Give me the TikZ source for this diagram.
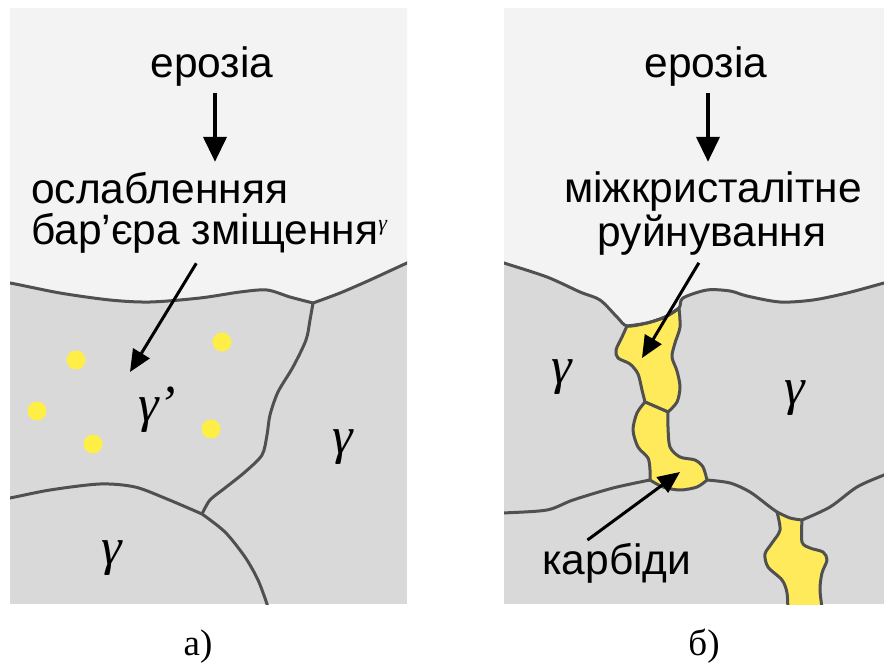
\documentclass[tikz,border=0pt]{standalone}
\usepackage{fontspec}
\setmainfont{Liberation Sans}
\newfontfamily\timesfont{Liberation Serif}
\usetikzlibrary{arrows.meta, positioning, calc}
\definecolor{erosbg}{RGB}{243,243,243}
\definecolor{grain}{RGB}{217,217,217}
\definecolor{boundary}{RGB}{80,80,80}
\definecolor{carbfill}{RGB}{255,234,92}
\definecolor{dotfill}{RGB}{255,238,70}

\begin{document}
\begin{tikzpicture}[
        x=1pt, y=-1pt,
        panel/.style={fill=grain},
        erosion/.style={fill=erosbg},
        grainline/.style={draw=boundary, line width=3pt, line join=round},
        carbide/.style={fill=carbfill, draw=boundary, line width=3pt, line join=round},
        particle/.style={circle, fill=dotfill, minimum size=19pt, inner sep=0pt},
        textlbl/.style={inner sep=0pt, font=\fontsize{42.5}{48}\selectfont, text height=29pt, text depth=8pt},
        phase/.style={inner sep=0pt, font=\timesfont\itshape\fontsize{52}{56}\selectfont},
        caption/.style={inner sep=0pt, font=\timesfont\fontsize{37}{42}\selectfont},
        bigarrow/.style={-{Triangle[length=25pt, width=23pt]}, line width=4pt, black},
        thinarrow/.style={-{Triangle[length=22pt, width=19pt]}, line width=3pt, black}
    ]
    \useasboundingbox (0,0) rectangle (884,666);

    % panel a: gamma' particles in the grain below the eroded surface
    \begin{scope}
        \clip (10,9) rectangle (407,604);
        \fill[panel] (10,9) rectangle (407,604);
        \fill[erosion] (0,0) -- (0,283) -- plot[smooth] coordinates {(10,283) (60,293) (110,300) (150,302) (200,298) (240,292) (267,290) (290,297) (313,303)}
            -- plot[smooth] coordinates {(313,303) (340,293) (370,280) (407,263) (420,258)} -- (420,0) -- cycle;
        \draw[grainline] plot[smooth] coordinates {(0,283) (10,283) (60,293) (110,300) (150,302) (200,298) (240,292) (267,290) (290,297) (313,303)};
        \draw[grainline] plot[smooth] coordinates {(313,303) (340,293) (370,280) (407,263) (420,258)};
        \draw[grainline] plot[smooth] coordinates {(313,303) (310,320) (306,340) (293,367) (278,392) (270,415) (267,435) (262,455) (245,472) (225,488) (210,500) (202,514)};
        \draw[grainline] plot[smooth] coordinates {(0,499) (10,498) (50,490) (100,484) (135,487) (167,499) (202,514)};
        \draw[grainline] plot[smooth] coordinates {(202,514) (225,532) (245,557) (258,580) (267,604) (270,615)};
    \end{scope}
    \node[particle] (p1) at (222,342) {};
    \node[particle] (p2) at (76,360) {};
    \node[particle] (p3) at (37,411) {};
    \node[particle] (p4) at (93,444) {};
    \node[particle] (p5) at (211,429) {};

    \node[textlbl, anchor=base] (erosA) at (212,78) {ерозіа};
    \node[textlbl, anchor=base west] (weakA1) at (31,204) {ослабленняя};
    \node[textlbl, anchor=base west] (weakA2) at (31,244) {бар’єра зміщення\raisebox{14pt}{\timesfont\itshape\fontsize{22}{22}\selectfont γ}};
    \node[phase] (gpA) at (157,410) {γ’};
    \node[phase] (gA1) at (343,447) {γ};
    \node[phase] (gA2) at (112,558) {γ};
    \coordinate (tipA) at (130,372);

    \draw[bigarrow, shorten <=7pt, shorten >=13pt] ([xshift=3pt]erosA.south) -- ([xshift=3pt]erosA.south |- weakA1.north);
    \draw[thinarrow, shorten <=13pt] ([xshift=-6pt]weakA2.south) -- (tipA);

    \node[caption, anchor=base] (capA) at (198,655) {а)};

    % panel b: carbides along the grain boundary
    \begin{scope}
        \clip (504,9) rectangle (884,604);
        \fill[panel] (504,9) rectangle (884,604);
        \fill[erosion] (495,0) -- (495,260) -- plot[smooth] coordinates {(504,263) (547,277) (580,292) (600,300) (617,317) (627,326) (647,323) (665,317) (679,308) (683,298) (707,290) (730,291) (747,296) (780,302) (813,300) (847,293) (884,283) (895,280)} -- (895,0) -- cycle;
        \filldraw[carbide] plot[smooth] coordinates {(627,326) (622,337) (616,350) (618,358) (630,364) (638,374) (642,390) (645,402)}
            -- (668,412) -- plot[smooth] coordinates {(668,412) (677,402) (680,387) (677,371) (672,357) (675,343) (680,327) (679,308)}
            -- plot[smooth] coordinates {(679,308) (665,317) (647,323) (627,326)} -- cycle;
        \filldraw[carbide] plot[smooth] coordinates {(645,402) (637,413) (633,430) (638,447) (648,458) (650,470) (650,480)}
            -- plot[smooth] coordinates {(650,480) (663,487) (680,490) (697,487) (707,480)}
            -- plot[smooth] coordinates {(707,480) (703,467) (695,460) (680,457) (670,447) (668,427) (668,412)} -- cycle;
        \filldraw[carbide] plot[smooth] coordinates {(777,512) (780,530) (772,543) (765,554) (768,567) (782,580) (787,593) (788,615)}
            -- plot[smooth] coordinates {(823,615) (820,590) (822,573) (827,560) (823,552) (810,548) (802,542) (802,520)}
            -- plot[smooth] coordinates {(802,520) (790,518) (777,512)} -- cycle;
        \draw[grainline] plot[smooth] coordinates {(495,260) (504,263) (547,277) (580,292) (600,300) (617,317) (627,326) (647,323) (665,317) (679,308) (683,298) (707,290) (730,291) (747,296) (780,302) (813,300) (847,293) (884,283) (895,280)};
        \draw[grainline] plot[smooth] coordinates {(495,514) (504,513) (547,510) (573,500) (613,488) (650,480)};
        \draw[grainline] plot[smooth] coordinates {(707,480) (730,483) (750,492) (770,507) (777,512)};
        \draw[grainline] plot[smooth] coordinates {(802,520) (830,507) (857,487) (884,475) (895,471)};
    \end{scope}

    \node[textlbl, anchor=base] (erosB) at (706,78) {ерозіа};
    \node[textlbl, anchor=base] (crackB1) at (713,203) {міжкристалітне};
    \node[textlbl, anchor=base] (crackB2) at (712,246) {руйнування};
    \node[textlbl, anchor=base] (carbB) at (617,574) {карбіди};
    \node[phase] (gB1) at (562,377) {γ};
    \node[phase] (gB2) at (795,398) {γ};
    \coordinate (tipB1) at (642,358);
    \coordinate (tipB2) at (680,472);

    \draw[bigarrow, shorten <=7pt, shorten >=12pt] ([xshift=2pt]erosB.south) -- ([xshift=2pt]erosB.south |- crackB1.north);
    \draw[thinarrow, shorten <=10pt] ([xshift=-8pt]crackB2.south) -- (tipB1);
    \draw[thinarrow, shorten <=8pt] ([xshift=-36pt]carbB.north) -- (tipB2);

    \node[caption, anchor=base] (capB) at (704,655) {б)};
\end{tikzpicture}
\end{document}
